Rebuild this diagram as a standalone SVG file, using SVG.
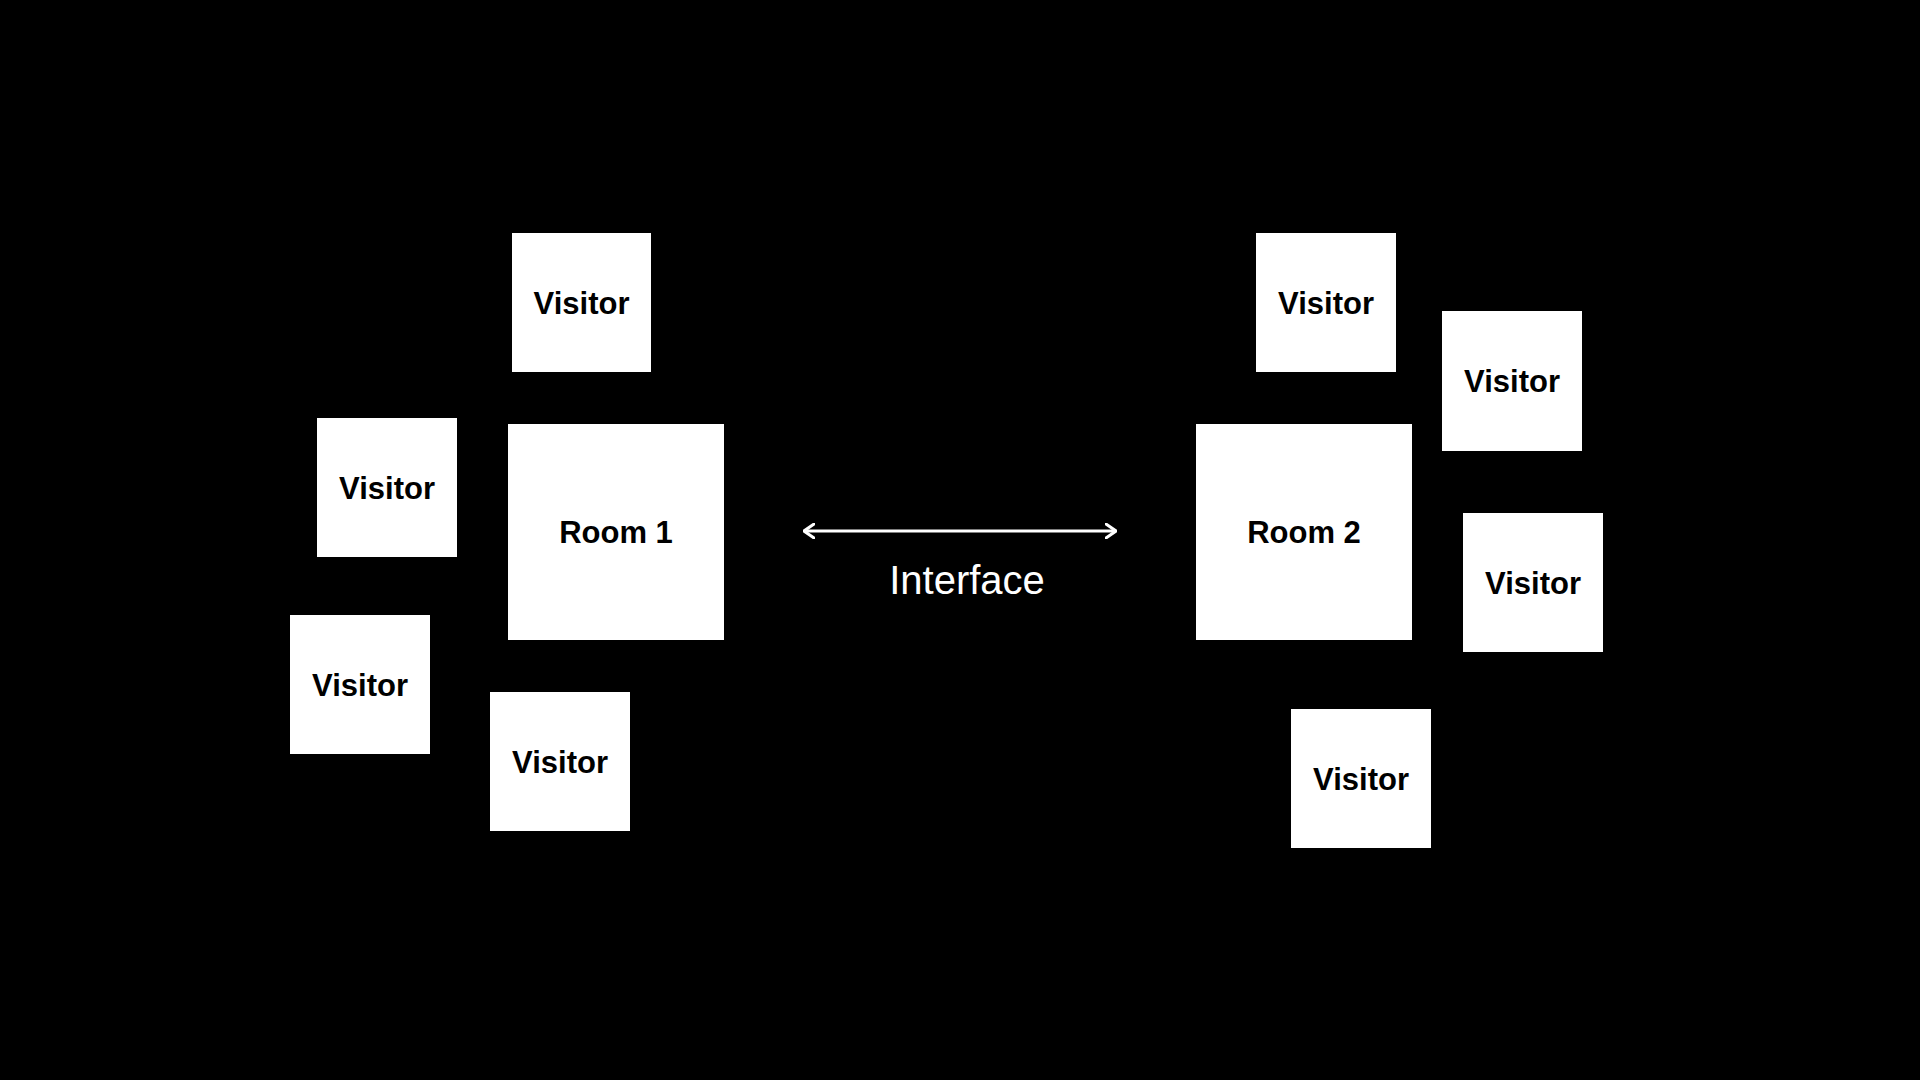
<svg xmlns="http://www.w3.org/2000/svg" width="1920" height="1080" viewBox="0 0 1920 1080">
<style>
.b{fill:#fff}
.t{font-family:"Liberation Sans",Arial,sans-serif;font-weight:bold;font-size:31px;fill:#000;text-anchor:middle;dominant-baseline:central}
.c{stroke:#fff;stroke-width:3;fill:none}
</style>
<defs><marker id="a" viewBox="0 0 12 16" refX="11" refY="8" markerWidth="12" markerHeight="16" markerUnits="userSpaceOnUse" orient="auto-start-reverse"><path d="M1 1 L11 8 L1 15" stroke="#fff" stroke-width="3" fill="none" stroke-linecap="round"/></marker></defs>
<rect width="1920" height="1080" fill="#000"/>
<g id="v1"><rect class="b" x="512" y="233" width="139" height="139"/><text class="t" x="581.5" y="303">Visitor</text></g>
<g id="v2"><rect class="b" x="317" y="418" width="140" height="139"/><text class="t" x="387" y="488">Visitor</text></g>
<g id="v3"><rect class="b" x="290" y="615" width="140" height="139"/><text class="t" x="360" y="685">Visitor</text></g>
<g id="v4"><rect class="b" x="490" y="692" width="140" height="139"/><text class="t" x="560" y="762">Visitor</text></g>
<g id="room1"><rect class="b" x="508" y="424" width="216" height="216"/><text class="t" x="616" y="532">Room 1</text></g>
<g id="room2"><rect class="b" x="1196" y="424" width="216" height="216"/><text class="t" x="1304" y="532">Room 2</text></g>
<g id="v5"><rect class="b" x="1256" y="233" width="140" height="139"/><text class="t" x="1326" y="303">Visitor</text></g>
<g id="v6"><rect class="b" x="1442" y="311" width="140" height="140"/><text class="t" x="1512" y="381">Visitor</text></g>
<g id="v7"><rect class="b" x="1463" y="513" width="140" height="139"/><text class="t" x="1533" y="583">Visitor</text></g>
<g id="v8"><rect class="b" x="1291" y="709" width="140" height="139"/><text class="t" x="1361" y="779">Visitor</text></g>
<g id="connectors"><line class="c" x1="804" y1="531" x2="1116" y2="531" marker-start="url(#a)" marker-end="url(#a)"/>
<text x="967" y="580" font-family="'Liberation Sans',Arial,sans-serif" font-size="40" fill="#fff" text-anchor="middle" dominant-baseline="central">Interface</text></g>
</svg>
